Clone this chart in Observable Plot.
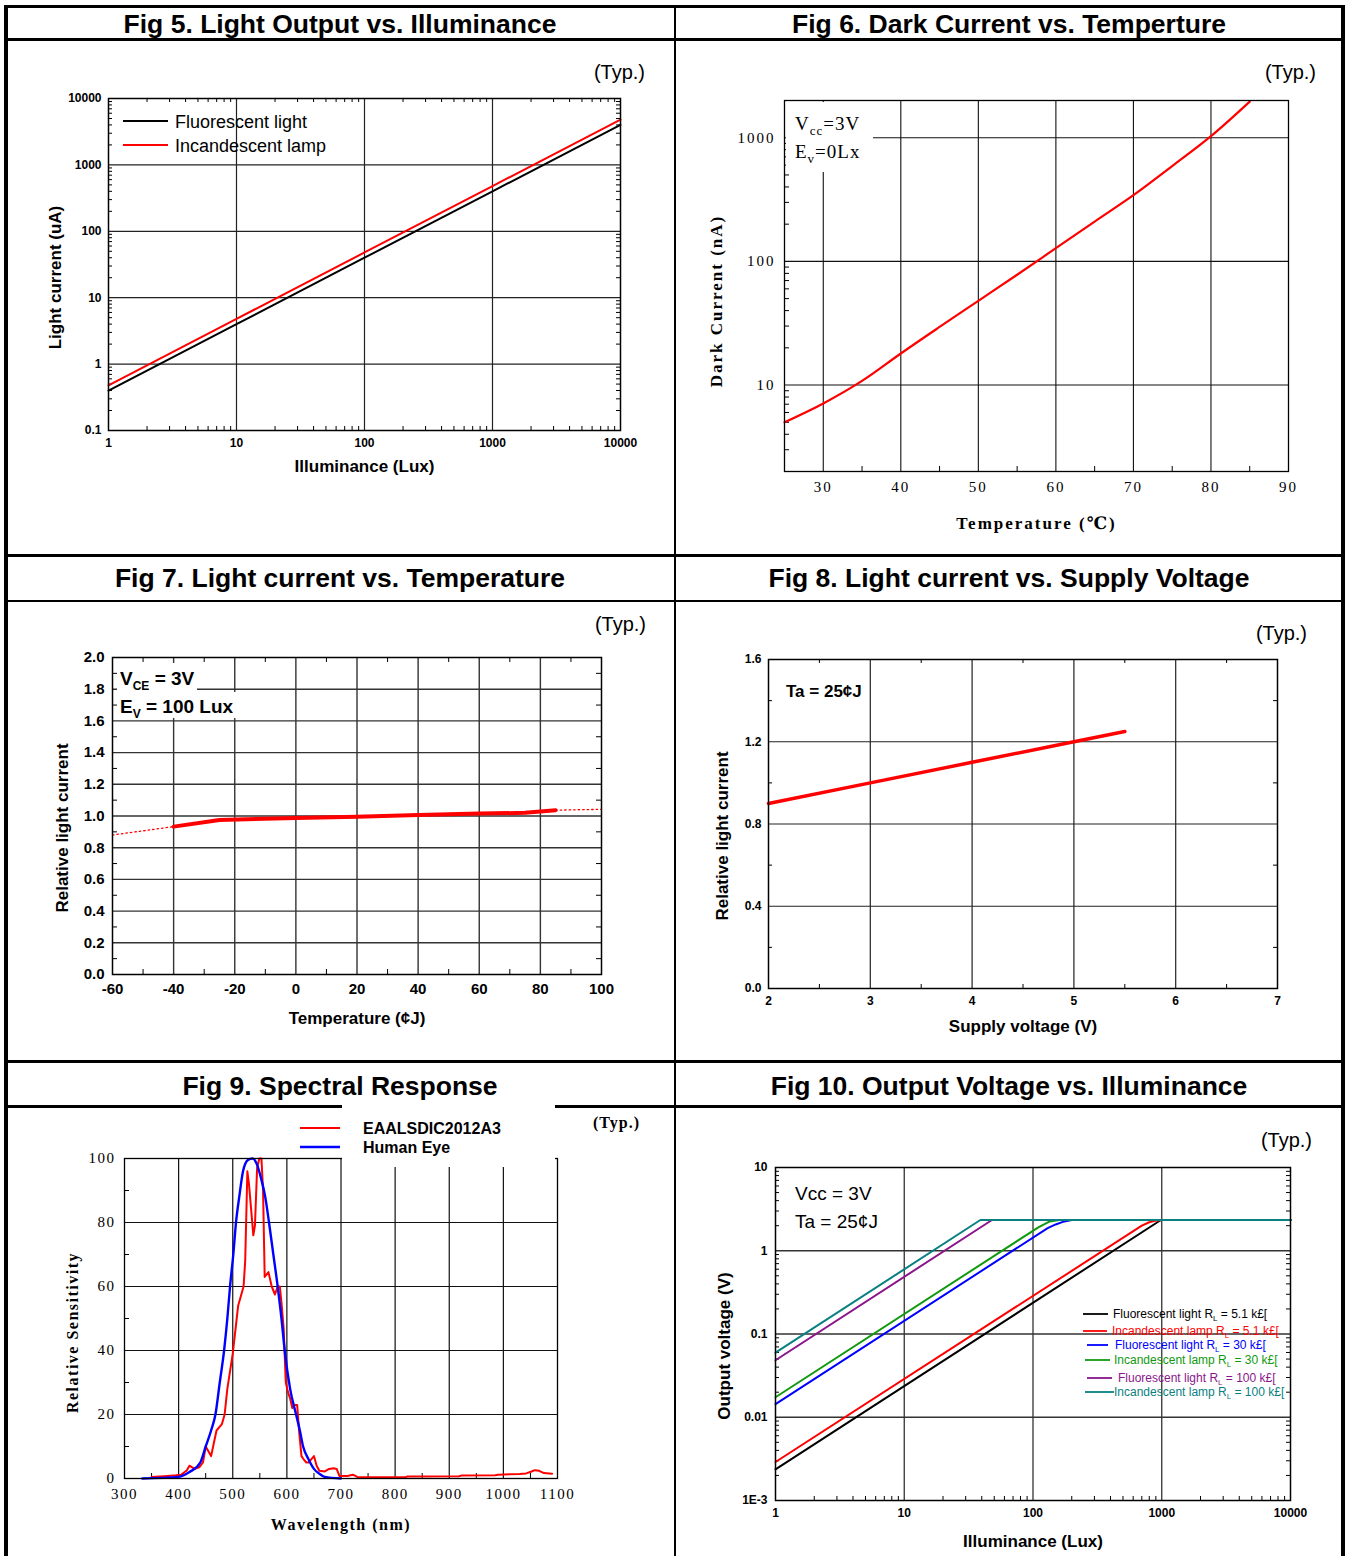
<!DOCTYPE html>
<html><head><meta charset="utf-8">
<script src="https://cdn.jsdelivr.net/npm/d3@7"></script>
<script src="https://cdn.jsdelivr.net/npm/@observablehq/plot@0.6"></script>
<style>
body{margin:0;background:#fff;}
#page{position:relative;width:1349px;height:1556px;overflow:hidden;background:#fff;}
</style></head>
<body><div id="page"></div>
<script>
// ================= DATA =================
// Fig 5 – Light current (uA) vs illuminance (lux)
const fig5Lux = [1, 10, 100, 1000, 10000];
const fig5Fluorescent = [0.4, 4, 40, 400, 4000];
const fig5Incandescent = [0.48, 4.8, 48, 480, 4800];
const fig5XTicks = [1, 10, 100, 1000, 10000];
const fig5YTicks = [0.1, 1, 10, 100, 1000, 10000];

// Fig 6 – Dark current (nA) vs temperature
const fig6Temp = [25, 30, 35, 40, 45, 50, 55, 60, 65, 70, 75, 80, 85];
const fig6Dark = [5.0, 7.1, 10.8, 18.0, 29.5, 48, 78, 128, 210, 343, 590, 1030, 1960];
const fig6XTicks = [30, 40, 50, 60, 70, 80, 90];
const fig6YTicks = [10, 100, 1000];

// Fig 7 – Relative light current vs temperature
const fig7Temp = [-40, -25, 0, 20, 40, 60, 75, 85];
const fig7Rel = [0.933, 0.975, 0.988, 0.996, 1.006, 1.015, 1.02, 1.037];
const fig7LowTemp = [-60, -40];
const fig7LowRel = [0.88, 0.933];
const fig7HighTemp = [85, 100];
const fig7HighRel = [1.037, 1.042];
const fig7XTicks = [-60, -40, -20, 0, 20, 40, 60, 80, 100];
const fig7YTicks = [0, 0.2, 0.4, 0.6, 0.8, 1.0, 1.2, 1.4, 1.6, 1.8, 2.0];

// Fig 8 – Relative light current vs supply voltage
const fig8Volt = [2, 3, 4, 5, 5.5];
const fig8Rel = [0.9, 1.0, 1.1, 1.2, 1.25];
const fig8XTicks = [2, 3, 4, 5, 6, 7];
const fig8YTicks = [0, 0.4, 0.8, 1.2, 1.6];

// Fig 9 – Spectral response [wavelength nm, relative sensitivity]
const fig9Sensor = [[350,0.5],[380,0.8],[395,1],[405,1.2],[415,2.5],[420,4],[425,3.5],[430,3],[438,3.5],[445,5],[450,10],[455,8.5],[460,7],[465,11],[470,15],[480,17],[485,20],[490,28],[500,39],[510,54],[520,60],[523,68],[527,96],[530,92],[534,84],[538,76],[541,79],[545,97],[549,100],[553,100],[556,90],[559,63],[566,64.5],[572,60],[578,57.5],[583,60],[587,60],[590,55],[594,47],[598,30],[602,27],[606,25],[610,22],[614,23],[619,23],[623,14],[627,7],[631,6],[636,5],[640,5],[645,6],[650,7],[655,4],[660,2.4],[670,2.2],[678,3],[686,3.2],[692,3],[697,0.8],[712,0.8],[722,1.2],[730,0.5],[735,0.4],[820,0.4],[822,0.6],[918,0.7],[922,0.9],[985,1.0],[990,1.2],[1030,1.4],[1042,1.6],[1052,2.2],[1058,2.6],[1066,2.4],[1075,1.7],[1090,1.5]];
const fig9HumanEye = [[333,0],[400,0.5],[420,2],[440,5],[450,10],[460,15],[468,20],[476,30],[484,40],[490,50],[495,60],[501,70],[506,80],[512,88],[519,96],[528,99.5],[537,100],[545,98],[552,94],[560,88],[567,80],[575,70],[583,60],[590,50],[596,40],[606,28],[617,20],[624,15],[630,10],[640,6],[650,3],[660,1.5],[670,0.5],[700,0]];
const fig9XTicks = [300, 400, 500, 600, 700, 800, 900, 1000, 1100];
const fig9YTicks = [0, 20, 40, 60, 80, 100];

// Fig 10 – Output voltage (V) vs illuminance (lux)
const fig10FluoLux51 = [1, 985, 10000];             const fig10FluoV51 = [0.00237, 2.34, 2.34];
const fig10IncLux51 = [1, 700, 800, 900, 1000, 10000]; const fig10IncV51 = [0.0029, 2.0, 2.2, 2.3, 2.34, 2.34];
const fig10FluoLux30 = [1, 130, 150, 175, 200, 10000]; const fig10FluoV30 = [0.0144, 1.87, 2.07, 2.25, 2.34, 2.34];
const fig10IncLux30 = [1, 110, 135, 160, 10000];      const fig10IncV30 = [0.0174, 1.91, 2.25, 2.34, 2.34];
const fig10FluoLux100 = [1, 48, 10000];             const fig10FluoV100 = [0.0484, 2.34, 2.34];
const fig10IncLux100 = [1, 39, 10000];              const fig10IncV100 = [0.0596, 2.34, 2.34];
const fig10XTicks = [1, 10, 100, 1000, 10000];
const fig10YTicks = [0.001, 0.01, 0.1, 1, 10];

// ================= HELPERS =================
const SANS = '"Liberation Sans", Arial, Helvetica, sans-serif';
const SERIF = '"Liberation Serif", "Times New Roman", "DejaVu Serif", serif';
const page = document.getElementById('page');

function logMinor(lo, hi) {
  const out = [];
  for (let e = Math.floor(Math.log10(lo)); e <= Math.ceil(Math.log10(hi)); e++) {
    for (let k = 2; k <= 9; k++) {
      const v = +(k * Math.pow(10, e)).toPrecision(3);
      if (v > lo && v < hi) out.push(v);
    }
  }
  return out;
}
function steps(a, b, s) { return d3.range(a, b + s / 2, s).map(v => +v.toFixed(6)); }
function zip(xs, ys) { return xs.map((x, i) => ({x, y: ys[i]})); }
function pairs(arr) { return arr.map(([x, y]) => ({x, y})); }

function chart(o) {
  const iw = o.width - o.mL - o.mR, ih = o.height - o.mT - o.mB;
  const tl = o.tickLen ?? 5;
  const gs = {stroke: o.gridStroke || "#222", strokeWidth: o.gridWidth || 1.2};
  const marks = [];
  if (o.gridX) marks.push(Plot.ruleX(o.gridX, gs));
  if (o.gridY) marks.push(Plot.ruleY(o.gridY, gs));
  const sides = o.minorSides || ["bottom", "left"];
  if (o.minorX) {
    if (sides.includes("bottom")) marks.push(Plot.tickX(o.minorX, {x: d => d, insetTop: ih - tl, stroke: "#000"}));
    if (sides.includes("top")) marks.push(Plot.tickX(o.minorX, {x: d => d, insetBottom: ih - tl, stroke: "#000"}));
  }
  if (o.minorY) {
    if (sides.includes("left")) marks.push(Plot.tickY(o.minorY, {y: d => d, insetRight: iw - tl, stroke: "#000"}));
    if (sides.includes("right")) marks.push(Plot.tickY(o.minorY, {y: d => d, insetLeft: iw - tl, stroke: "#000"}));
  }
  marks.push(...o.marks);
  marks.push(Plot.frame({stroke: "#000", strokeWidth: o.frameWidth || 1.5}));
  const tf = {fontSize: o.tickFont, fontWeight: o.tickWeight || "bold", fontFamily: o.tickFamily || SANS};
  marks.push(Plot.axisX({ticks: o.xTicks, tickFormat: o.xFmt || (d => String(d)), tickSize: 0, tickPadding: o.xPad, label: null, ...tf}));
  marks.push(Plot.axisY({ticks: o.yTicks, tickFormat: o.yFmt || (d => String(d)), tickSize: 0, tickPadding: o.yPad, label: null, ...tf}));
  const lf = {fontSize: o.labelFont, fontWeight: "bold", fontFamily: o.labelFamily || SANS, text: d => d, textAnchor: "middle", lineAnchor: "middle"};
  marks.push(Plot.text([o.xLabel], {frameAnchor: "bottom", dy: o.xLabelDy, ...lf}));
  marks.push(Plot.text([o.yLabel], {frameAnchor: "left", dx: o.yLabelDx, dy: o.yLabelDy || 0, rotate: -90, ...lf}));
  const svg = Plot.plot({
    width: o.width, height: o.height,
    marginLeft: o.mL, marginRight: o.mR, marginTop: o.mT, marginBottom: o.mB,
    x: {...o.x, label: null}, y: {...o.y, label: null},
    style: {fontFamily: SANS, background: "transparent", overflow: "visible", ...(o.style || {})},
    marks
  });
  const d = document.createElement('div');
  d.style.cssText = `position:absolute;left:${o.left}px;top:${o.top}px;`;
  d.appendChild(svg);
  page.appendChild(d);
}

// ================= FIG 5 =================
chart({
  left: 8, top: 42, width: 664, height: 511, mL: 100, mR: 52, mT: 56, mB: 123,
  x: {type: "log", domain: [1, 10000]}, y: {type: "log", domain: [0.1, 10000]},
  gridX: [10, 100, 1000], gridY: [1, 10, 100, 1000],
  minorX: logMinor(1, 10000), minorY: logMinor(0.1, 10000), minorSides: ["bottom", "left", "top", "right"], tickLen: 4,
  xTicks: fig5XTicks, yTicks: fig5YTicks, tickFont: 12, xPad: 8, yPad: 7,
  xLabel: "Illuminance (Lux)", yLabel: "Light current (uA)", labelFont: 17, xLabelDy: 36, yLabelDx: -53, yLabelDy: 13,
  marks: [
    Plot.line(zip(fig5Lux, fig5Fluorescent), {x: "x", y: "y", stroke: "#000", strokeWidth: 2}),
    Plot.line(zip(fig5Lux, fig5Incandescent), {x: "x", y: "y", stroke: "#ff0000", strokeWidth: 2})
  ]
});

// ================= FIG 6 =================
chart({
  left: 678, top: 42, width: 662, height: 511, mL: 106, mR: 52, mT: 58, mB: 82,
  x: {domain: [25, 90]}, y: {type: "log", domain: [2, 2000]},
  gridX: [30, 40, 50, 60, 70, 80], gridY: [10, 100, 1000], gridStroke: "#111", gridWidth: 1.1,
  minorX: [35, 45, 55, 65, 75, 85], minorY: logMinor(2, 2000), minorSides: ["bottom", "left"], tickLen: 5, frameWidth: 1.3,
  xTicks: fig6XTicks, yTicks: fig6YTicks, tickFont: 15, tickWeight: "normal", tickFamily: SERIF, xPad: 10, yPad: 9,
  xLabel: "Temperature (℃)", yLabel: "Dark Current (nA)", labelFont: 17, labelFamily: SERIF, xLabelDy: 52, yLabelDx: -68, yLabelDy: 15,
  style: {letterSpacing: "2px"},
  marks: [
    Plot.line(zip(fig6Temp, fig6Dark), {x: "x", y: "y", stroke: "#ff0000", strokeWidth: 2.2, curve: "catmull-rom"})
  ]
});

// ================= FIG 7 =================
chart({
  left: 8, top: 603, width: 664, height: 456, mL: 104, mR: 71, mT: 54, mB: 85,
  x: {domain: [-60, 100]}, y: {domain: [0, 2]},
  gridX: steps(-40, 80, 20), gridY: steps(0.2, 1.8, 0.2), gridStroke: "#333", gridWidth: 1.4,
  minorX: steps(-50, 90, 20), minorY: steps(0.1, 1.9, 0.2), minorSides: ["bottom", "left", "top", "right"], tickLen: 5,
  xTicks: fig7XTicks, yTicks: fig7YTicks, yFmt: d => d.toFixed(1), tickFont: 15, xPad: 9, yPad: 8,
  xLabel: "Temperature (¢J)", yLabel: "Relative light current", labelFont: 17, xLabelDy: 44, yLabelDx: -50, yLabelDy: 12,
  marks: [
    Plot.line(zip(fig7LowTemp, fig7LowRel), {x: "x", y: "y", stroke: "#ff0000", strokeWidth: 1.3, strokeDasharray: "1.5,3"}),
    Plot.line(zip(fig7HighTemp, fig7HighRel), {x: "x", y: "y", stroke: "#ff0000", strokeWidth: 1.3, strokeDasharray: "1.5,3"}),
    Plot.line(zip(fig7Temp, fig7Rel), {x: "x", y: "y", stroke: "#ff0000", strokeWidth: 4})
  ]
});

// ================= FIG 8 =================
chart({
  left: 678, top: 603, width: 662, height: 456, mL: 90, mR: 63, mT: 56, mB: 71,
  x: {domain: [2, 7]}, y: {domain: [0, 1.6]},
  gridX: [3, 4, 5, 6], gridY: [0.4, 0.8, 1.2], gridStroke: "#222", gridWidth: 1.2,
  minorX: [2.5, 3.5, 4.5, 5.5, 6.5], minorY: [0.2, 0.6, 1.0, 1.4], minorSides: ["bottom", "left", "top", "right"], tickLen: 4,
  xTicks: fig8XTicks, yTicks: fig8YTicks, yFmt: d => d.toFixed(1), tickFont: 12, xPad: 8, yPad: 7,
  xLabel: "Supply voltage (V)", yLabel: "Relative light current", labelFont: 17, xLabelDy: 38, yLabelDx: -46, yLabelDy: 12,
  marks: [
    Plot.line(zip(fig8Volt, fig8Rel), {x: "x", y: "y", stroke: "#ff0000", strokeWidth: 3.5})
  ]
});

// ================= FIG 9 =================
chart({
  left: 8, top: 1109, width: 664, height: 447, mL: 116, mR: 115, mT: 49, mB: 78,
  x: {domain: [300, 1100]}, y: {domain: [0, 100]},
  gridX: steps(400, 1000, 100), gridY: [20, 40, 60, 80], gridStroke: "#111", gridWidth: 1.2,
  minorX: steps(350, 1050, 100), minorY: steps(10, 90, 20), minorSides: ["bottom", "left"], tickLen: 5, frameWidth: 1.3,
  xTicks: fig9XTicks, yTicks: fig9YTicks, tickFont: 15, tickWeight: "normal", tickFamily: SERIF, xPad: 10, yPad: 9,
  xLabel: "Wavelength (nm)", yLabel: "Relative Sensitivity", labelFont: 16, labelFamily: SERIF, xLabelDy: 46, yLabelDx: -52, yLabelDy: 14,
  style: {letterSpacing: "1.5px"},
  marks: [
    Plot.line(pairs(fig9Sensor), {x: "x", y: "y", stroke: "#ff0000", strokeWidth: 2}),
    Plot.line(pairs(fig9HumanEye), {x: "x", y: "y", stroke: "#0000ff", strokeWidth: 2.4, curve: "monotone-x"})
  ]
});

// ================= FIG 10 =================
chart({
  left: 678, top: 1109, width: 662, height: 447, mL: 97, mR: 50, mT: 58, mB: 56,
  x: {type: "log", domain: [1, 10000]}, y: {type: "log", domain: [0.001, 10]},
  gridX: [10, 100, 1000], gridY: [0.01, 0.1, 1], gridStroke: "#333", gridWidth: 1.3,
  minorX: logMinor(1, 10000), minorY: logMinor(0.001, 10), minorSides: ["bottom", "left", "right"], tickLen: 4,
  xTicks: fig10XTicks, yTicks: fig10YTicks, yFmt: d => d === 0.001 ? "1E-3" : String(d), tickFont: 12, xPad: 8, yPad: 8,
  xLabel: "Illuminance (Lux)", yLabel: "Output voltage (V)", labelFont: 17, xLabelDy: 41, yLabelDx: -51, yLabelDy: 12,
  marks: [
    Plot.line(zip(fig10FluoLux51, fig10FluoV51), {x: "x", y: "y", stroke: "#000", strokeWidth: 2}),
    Plot.line(zip(fig10IncLux51, fig10IncV51), {x: "x", y: "y", stroke: "#ff0000", strokeWidth: 2}),
    Plot.line(zip(fig10FluoLux30, fig10FluoV30), {x: "x", y: "y", stroke: "#0000ff", strokeWidth: 2}),
    Plot.line(zip(fig10IncLux30, fig10IncV30), {x: "x", y: "y", stroke: "#119911", strokeWidth: 2}),
    Plot.line(zip(fig10FluoLux100, fig10FluoV100), {x: "x", y: "y", stroke: "#8b168b", strokeWidth: 2}),
    Plot.line(zip(fig10IncLux100, fig10IncV100), {x: "x", y: "y", stroke: "#0a8080", strokeWidth: 2})
  ]
});

// ================= TABLE BORDERS =================
function box(css) { const d = document.createElement('div'); d.style.cssText = 'position:absolute;background:#000;' + css; page.appendChild(d); }
box('left:4px;top:5px;width:1341px;height:3px;');
box('left:4px;top:5px;width:4px;height:1551px;');
box('left:1341px;top:5px;width:4px;height:1551px;');
box('left:674px;top:5px;width:2px;height:1551px;');
box('left:4px;top:38px;width:1341px;height:2.5px;');
box('left:4px;top:554px;width:1341px;height:2.5px;');
box('left:4px;top:599.5px;width:1341px;height:2.5px;');
box('left:4px;top:1060px;width:1341px;height:2.5px;');
box('left:4px;top:1105px;width:1341px;height:2.5px;');

// ================= OVERLAY TEXT, LEGENDS, ANNOTATIONS =================
const sub = (t, size, dy) => `<tspan dy="${dy}" font-size="${size}">${t}</tspan><tspan dy="${-dy}">`;
const overlay = `
<svg xmlns="http://www.w3.org/2000/svg" width="1349" height="1556" style="position:absolute;left:0;top:0;overflow:visible">
 <g font-family='${SANS}' font-weight="bold" font-size="26.5" text-anchor="middle" fill="#000">
  <text x="340" y="33">Fig 5. Light Output vs. Illuminance</text>
  <text x="1009" y="33">Fig 6. Dark Current vs. Temperture</text>
  <text x="340" y="587">Fig 7. Light current vs. Temperature</text>
  <text x="1009" y="587">Fig 8. Light current vs. Supply Voltage</text>
  <text x="340" y="1095">Fig 9. Spectral Response</text>
  <text x="1009" y="1095">Fig 10. Output Voltage vs. Illuminance</text>
 </g>
 <g font-family='${SANS}' font-size="20" text-anchor="end" fill="#000">
  <text x="645" y="79">(Typ.)</text>
  <text x="1316" y="79">(Typ.)</text>
  <text x="646" y="631">(Typ.)</text>
  <text x="1307" y="640">(Typ.)</text>
  <text x="1312" y="1147">(Typ.)</text>
 </g>
 <!-- Fig 5 legend -->
 <line x1="123" x2="168" y1="121" y2="121" stroke="#000" stroke-width="1.8"/>
 <line x1="123" x2="168" y1="145" y2="145" stroke="#ff0000" stroke-width="1.8"/>
 <g font-family='${SANS}' font-size="18" fill="#000">
  <text x="175" y="128">Fluorescent light</text>
  <text x="175" y="152">Incandescent lamp</text>
 </g>
 <!-- Fig 6 annotation -->
 <rect x="786" y="102" width="87" height="70" fill="#fff"/>
 <g font-family='${SERIF}' font-size="19" fill="#000" letter-spacing="1">
  <text x="795" y="130">V${sub('cc', 13, 5)}=3V</tspan></text>
  <text x="795" y="158">E${sub('v', 13, 5)}=0Lx</tspan></text>
 </g>
 <!-- Fig 7 annotation -->
 <rect x="117" y="663" width="80" height="29" fill="#fff"/>
 <rect x="117" y="692" width="121" height="26" fill="#fff"/>
 <g font-family='${SANS}' font-size="19" font-weight="bold" fill="#000">
  <text x="120" y="685">V${sub('CE', 12, 5)} = 3V</tspan></text>
  <text x="120" y="713">E${sub('V', 12, 5)} = 100 Lux</tspan></text>
 </g>
 <!-- Fig 8 annotation -->
 <text x="786" y="697" font-family='${SANS}' font-size="17" font-weight="bold" fill="#000">Ta = 25¢J</text>
 <!-- Fig 9 legend -->
 <rect x="342" y="1103" width="213" height="64" fill="#fff"/>
 <line x1="300" x2="340" y1="1128" y2="1128" stroke="#ff0000" stroke-width="2"/>
 <line x1="300" x2="340" y1="1147" y2="1147" stroke="#0000ff" stroke-width="2.5"/>
 <g font-family='${SANS}' font-size="16" font-weight="bold" fill="#000">
  <text x="363" y="1134">EAALSDIC2012A3</text>
  <text x="363" y="1153">Human Eye</text>
 </g>
 <text x="640" y="1128" text-anchor="end" font-family='${SERIF}' font-size="16" font-weight="bold" letter-spacing="1" fill="#000">(Typ.)</text>
 <!-- Fig 10 annotation -->
 <g font-family='${SANS}' font-size="19" fill="#000">
  <text x="795" y="1200">Vcc = 3V</text>
  <text x="795" y="1228">Ta = 25¢J</text>
 </g>
 <!-- Fig 10 legend -->
 <g stroke-width="1.8">
  <line x1="1083" x2="1108" y1="1314" y2="1314" stroke="#000"/>
  <line x1="1083" x2="1107" y1="1331" y2="1331" stroke="#ff0000"/>
  <line x1="1087" x2="1108" y1="1345" y2="1345" stroke="#0000ff"/>
  <line x1="1085" x2="1110" y1="1360" y2="1360" stroke="#119911"/>
  <line x1="1087" x2="1112" y1="1378" y2="1378" stroke="#8b168b"/>
  <line x1="1085" x2="1114" y1="1392" y2="1392" stroke="#0a8080"/>
 </g>
 <g font-family='${SANS}' font-size="12">
  <text x="1113" y="1318" fill="#000">Fluorescent light R${sub('L', 8, 3)} = 5.1 k£[</tspan></text>
  <text x="1112" y="1335" fill="#ff0000">Incandescent lamp  R${sub('L', 8, 3)} = 5.1 k£[</tspan></text>
  <text x="1115" y="1349" fill="#0000ff">Fluorescent light R${sub('L', 8, 3)} = 30 k£[</tspan></text>
  <text x="1114" y="1364" fill="#119911">Incandescent lamp  R${sub('L', 8, 3)} = 30 k£[</tspan></text>
  <text x="1118" y="1382" fill="#8b168b">Fluorescent light R${sub('L', 8, 3)} = 100 k£[</tspan></text>
  <text x="1114" y="1396" fill="#0a8080">Incandescent lamp  R${sub('L', 8, 3)} = 100 k£[</tspan></text>
 </g>
</svg>`;
const ov = document.createElement('div');
ov.style.cssText = 'position:absolute;left:0;top:0;width:1349px;height:1556px;pointer-events:none;';
ov.innerHTML = overlay;
page.appendChild(ov);
</script>
</body></html>
